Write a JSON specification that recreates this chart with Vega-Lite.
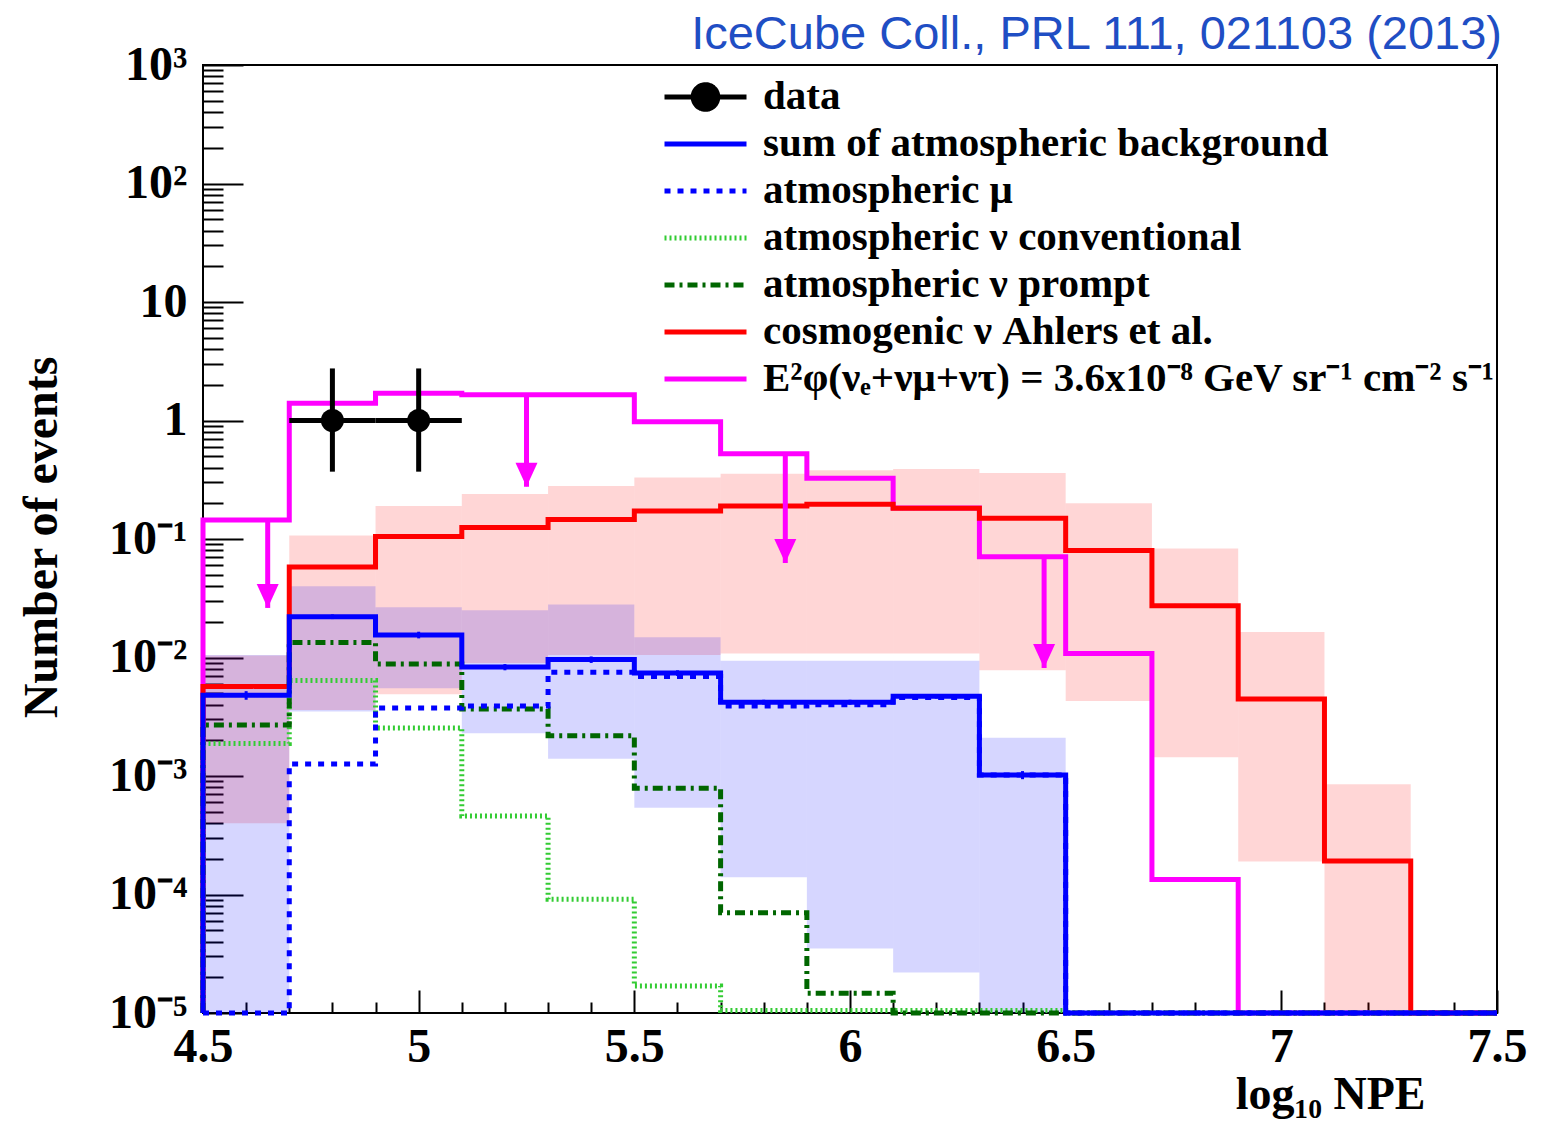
{
  "$schema": "https://vega.github.io/schema/vega-lite/v6.json",
  "width": 1294,
  "height": 948,
  "autosize": {"type": "none"},
  "padding": {"left": 203, "top": 65, "right": 55, "bottom": 108},
  "background": "white",
  "config": {"font": "Liberation Serif", "view": {"stroke": "black", "strokeWidth": 2}},
  "title": {"text": "IceCube Coll., PRL 111, 021103 (2013)", "anchor": "end", "frame": "group", "font": "Liberation Sans", "fontSize": 47, "fontWeight": "normal", "color": "#1f4ec4", "offset": 14, "baseline": "alphabetic", "dx": 5, "dy": 69},
  "datasets": {
    "steps": [
      {"s":"e2","i":0,"x":4.5,"y":0.00001},{"s":"e2","i":1,"x":4.5,"y":0.145},{"s":"e2","i":2,"x":4.7,"y":1.4},{"s":"e2","i":3,"x":4.9,"y":1.7},{"s":"e2","i":4,"x":5.1,"y":1.65},{"s":"e2","i":5,"x":5.3,"y":1.65},{"s":"e2","i":6,"x":5.5,"y":0.975},{"s":"e2","i":7,"x":5.7,"y":0.525},{"s":"e2","i":8,"x":5.9,"y":0.325},{"s":"e2","i":9,"x":6.1,"y":0.183},{"s":"e2","i":10,"x":6.3,"y":0.071},{"s":"e2","i":11,"x":6.5,"y":0.0108},{"s":"e2","i":12,"x":6.7,"y":0.000134},{"s":"e2","i":13,"x":6.9,"y":0.00001},{"s":"e2","i":14,"x":7.1,"y":0.00001},{"s":"e2","i":15,"x":7.3,"y":0.00001},{"s":"e2","i":16,"x":7.5,"y":0.00001},
      {"s":"cosmo","i":0,"x":4.5,"y":0.00001},{"s":"cosmo","i":1,"x":4.5,"y":0.0057},{"s":"cosmo","i":2,"x":4.7,"y":0.058},{"s":"cosmo","i":3,"x":4.9,"y":0.105},{"s":"cosmo","i":4,"x":5.1,"y":0.125},{"s":"cosmo","i":5,"x":5.3,"y":0.146},{"s":"cosmo","i":6,"x":5.5,"y":0.172},{"s":"cosmo","i":7,"x":5.7,"y":0.19},{"s":"cosmo","i":8,"x":5.9,"y":0.196},{"s":"cosmo","i":9,"x":6.1,"y":0.182},{"s":"cosmo","i":10,"x":6.3,"y":0.15},{"s":"cosmo","i":11,"x":6.5,"y":0.08},{"s":"cosmo","i":12,"x":6.7,"y":0.0274},{"s":"cosmo","i":13,"x":6.9,"y":0.00446},{"s":"cosmo","i":14,"x":7.1,"y":0.000192},{"s":"cosmo","i":15,"x":7.3,"y":0.00001},{"s":"cosmo","i":16,"x":7.5,"y":0.00001},
      {"s":"conv","i":0,"x":4.5,"y":0.00001},{"s":"conv","i":1,"x":4.5,"y":0.00188},{"s":"conv","i":2,"x":4.7,"y":0.0064},{"s":"conv","i":3,"x":4.9,"y":0.00254},{"s":"conv","i":4,"x":5.1,"y":0.00046},{"s":"conv","i":5,"x":5.3,"y":0.000091},{"s":"conv","i":6,"x":5.5,"y":0.0000169},{"s":"conv","i":7,"x":5.7,"y":0.0000105},{"s":"conv","i":8,"x":5.9,"y":0.0000105},{"s":"conv","i":9,"x":6.1,"y":0.0000105},{"s":"conv","i":10,"x":6.3,"y":0.0000105},{"s":"conv","i":11,"x":6.5,"y":0.00001},{"s":"conv","i":12,"x":6.7,"y":0.00001},{"s":"conv","i":13,"x":6.9,"y":0.00001},{"s":"conv","i":14,"x":7.1,"y":0.00001},{"s":"conv","i":15,"x":7.3,"y":0.00001},{"s":"conv","i":16,"x":7.5,"y":0.00001},
      {"s":"prompt","i":0,"x":4.5,"y":0.00001},{"s":"prompt","i":1,"x":4.5,"y":0.0027},{"s":"prompt","i":2,"x":4.7,"y":0.0134},{"s":"prompt","i":3,"x":4.9,"y":0.0088},{"s":"prompt","i":4,"x":5.1,"y":0.00367},{"s":"prompt","i":5,"x":5.3,"y":0.00219},{"s":"prompt","i":6,"x":5.5,"y":0.00079},{"s":"prompt","i":7,"x":5.7,"y":0.00007},{"s":"prompt","i":8,"x":5.9,"y":0.0000147},{"s":"prompt","i":9,"x":6.1,"y":0.00001},{"s":"prompt","i":10,"x":6.3,"y":0.00001},{"s":"prompt","i":11,"x":6.5,"y":0.00001},{"s":"prompt","i":12,"x":6.7,"y":0.00001},{"s":"prompt","i":13,"x":6.9,"y":0.00001},{"s":"prompt","i":14,"x":7.1,"y":0.00001},{"s":"prompt","i":15,"x":7.3,"y":0.00001},{"s":"prompt","i":16,"x":7.5,"y":0.00001},
      {"s":"mu","i":0,"x":4.5,"y":0.00001},{"s":"mu","i":1,"x":4.5,"y":0.00001},{"s":"mu","i":2,"x":4.7,"y":0.00126},{"s":"mu","i":3,"x":4.9,"y":0.00374},{"s":"mu","i":4,"x":5.1,"y":0.0039},{"s":"mu","i":5,"x":5.3,"y":0.0075},{"s":"mu","i":6,"x":5.5,"y":0.0069},{"s":"mu","i":7,"x":5.7,"y":0.0039},{"s":"mu","i":8,"x":5.9,"y":0.004},{"s":"mu","i":9,"x":6.1,"y":0.0046},{"s":"mu","i":10,"x":6.3,"y":0.00102},{"s":"mu","i":11,"x":6.5,"y":0.00001},{"s":"mu","i":12,"x":6.7,"y":0.00001},{"s":"mu","i":13,"x":6.9,"y":0.00001},{"s":"mu","i":14,"x":7.1,"y":0.00001},{"s":"mu","i":15,"x":7.3,"y":0.00001},{"s":"mu","i":16,"x":7.5,"y":0.00001},
      {"s":"sum","i":0,"x":4.5,"y":0.00001},{"s":"sum","i":1,"x":4.5,"y":0.0048},{"s":"sum","i":2,"x":4.7,"y":0.0221},{"s":"sum","i":3,"x":4.9,"y":0.0155},{"s":"sum","i":4,"x":5.1,"y":0.0083},{"s":"sum","i":5,"x":5.3,"y":0.0096},{"s":"sum","i":6,"x":5.5,"y":0.0074},{"s":"sum","i":7,"x":5.7,"y":0.0042},{"s":"sum","i":8,"x":5.9,"y":0.0042},{"s":"sum","i":9,"x":6.1,"y":0.0047},{"s":"sum","i":10,"x":6.3,"y":0.00102},{"s":"sum","i":11,"x":6.5,"y":0.00001},{"s":"sum","i":12,"x":6.7,"y":0.00001},{"s":"sum","i":13,"x":6.9,"y":0.00001},{"s":"sum","i":14,"x":7.1,"y":0.00001},{"s":"sum","i":15,"x":7.3,"y":0.00001},{"s":"sum","i":16,"x":7.5,"y":0.00001}
    ],
    "rband": [
      {"lo":4.5,"hi":4.7,"up":0.0104,"dn":0.0004},{"lo":4.7,"hi":4.9,"up":0.107,"dn":0.0036},{"lo":4.9,"hi":5.1,"up":0.19,"dn":0.0049},{"lo":5.1,"hi":5.3,"up":0.24,"dn":0.009},{"lo":5.3,"hi":5.5,"up":0.28,"dn":0.0105},{"lo":5.5,"hi":5.7,"up":0.33,"dn":0.0105},{"lo":5.7,"hi":5.9,"up":0.355,"dn":0.0108},{"lo":5.9,"hi":6.1,"up":0.38,"dn":0.0108},{"lo":6.1,"hi":6.3,"up":0.39,"dn":0.0108},{"lo":6.3,"hi":6.5,"up":0.36,"dn":0.0078},{"lo":6.5,"hi":6.7,"up":0.2,"dn":0.0043},{"lo":6.7,"hi":6.9,"up":0.083,"dn":0.00144},{"lo":6.9,"hi":7.1,"up":0.0164,"dn":0.00019},{"lo":7.1,"hi":7.3,"up":0.00085,"dn":0.00001}
    ],
    "bband": [
      {"lo":4.5,"hi":4.7,"up":0.0105,"dn":0.00001},{"lo":4.7,"hi":4.9,"up":0.04,"dn":0.0035},{"lo":4.9,"hi":5.1,"up":0.0265,"dn":0.0055},{"lo":5.1,"hi":5.3,"up":0.025,"dn":0.0023},{"lo":5.3,"hi":5.5,"up":0.028,"dn":0.0014},{"lo":5.5,"hi":5.7,"up":0.0148,"dn":0.00054},{"lo":5.7,"hi":5.9,"up":0.0094,"dn":0.00014},{"lo":5.9,"hi":6.1,"up":0.0094,"dn":0.000035},{"lo":6.1,"hi":6.3,"up":0.0094,"dn":0.000022},{"lo":6.3,"hi":6.5,"up":0.0021,"dn":0.00001}
    ],
    "berr": [
      {"c":4.6,"lo":0.0044,"hi":0.0052},{"c":4.8,"lo":0.0211,"hi":0.0231},{"c":5.0,"lo":0.0145,"hi":0.0165},{"c":5.2,"lo":0.0078,"hi":0.0088},{"c":5.4,"lo":0.009,"hi":0.0102},{"c":5.6,"lo":0.007,"hi":0.0078},{"c":5.8,"lo":0.004,"hi":0.0044},{"c":6.0,"lo":0.004,"hi":0.0044},{"c":6.2,"lo":0.0045,"hi":0.0049},{"c":6.4,"lo":0.00094,"hi":0.0011}
    ],
    "arrows": [
      {"x":4.65,"y0":0.145,"y1":0.0262},{"x":5.25,"y0":1.65,"y1":0.276},{"x":5.85,"y0":0.525,"y1":0.0627},{"x":6.45,"y0":0.071,"y1":0.00815}
    ],
    "points": [
      {"x":4.8,"y":1,"xlo":4.7,"xhi":4.9,"ylo":0.37,"yhi":2.75},{"x":5.0,"y":1,"xlo":4.9,"xhi":5.1,"ylo":0.37,"yhi":2.75}
    ]
  },
  "layer": [
    {
      "data": {"name": "rband"},
      "mark": {"type": "rect", "fill": "#ff0000", "fillOpacity": 0.16, "strokeWidth": 0},
      "encoding": {
        "x": {"field": "lo", "type": "quantitative", "scale": {"domain": [4.5, 7.5], "nice": false, "zero": false},
          "axis": {
            "values": [4.5,4.6,4.7,4.8,4.9,5,5.1,5.2,5.3,5.4,5.5,5.6,5.7,5.8,5.9,6,6.1,6.2,6.3,6.4,6.5,6.6,6.7,6.8,6.9,7,7.1,7.2,7.3,7.4,7.5],
            "labelExpr": "abs(datum.value*2 - round(datum.value*2)) < 0.001 ? format(datum.value, '~g') : ''",
            "labelFont": "Liberation Serif", "labelFontWeight": "bold", "labelFontSize": 48, "labelColor": "black",
            "labelFlush": false, "labelOverlap": false, "labelPadding": 33, "labelBaseline": "top",
            "tickSize": {"condition": {"test": "abs(datum.value*2 - round(datum.value*2)) < 0.001", "value": -23}, "value": -11},
            "tickColor": "black", "tickWidth": 2, "domain": false, "grid": false,
            "title": "log₁₀ NPE", "titleFont": "Liberation Serif", "titleFontWeight": "bold", "titleFontSize": 46, "titleColor": "black",
            "titleX": 1222, "titleY": 81, "titleAlign": "right", "titleBaseline": "middle"
          }},
        "x2": {"field": "hi"},
        "y": {"field": "up", "type": "quantitative", "scale": {"type": "log", "domain": [0.00001, 1000], "nice": false},
          "axis": {
            "values": [0.00001,0.00002,0.00003,0.00004,0.00005,0.00006,0.00007,0.00008,0.00009,0.0001,0.0002,0.0003,0.0004,0.0005,0.0006,0.0007,0.0008,0.0009,0.001,0.002,0.003,0.004,0.005,0.006,0.007,0.008,0.009,0.01,0.02,0.03,0.04,0.05,0.06,0.07,0.08,0.09,0.1,0.2,0.3,0.4,0.5,0.6,0.7,0.8,0.9,1,2,3,4,5,6,7,8,9,10,20,30,40,50,60,70,80,90,100,200,300,400,500,600,700,800,900,1000],
            "labelExpr": "abs(log(datum.value)/LN10 - round(log(datum.value)/LN10)) > 0.001 ? '' : round(log(datum.value)/LN10) == 3 ? '10³' : round(log(datum.value)/LN10) == 2 ? '10²' : round(log(datum.value)/LN10) == 1 ? '10' : round(log(datum.value)/LN10) == 0 ? '1' : round(log(datum.value)/LN10) == -1 ? '10⁻¹' : round(log(datum.value)/LN10) == -2 ? '10⁻²' : round(log(datum.value)/LN10) == -3 ? '10⁻³' : round(log(datum.value)/LN10) == -4 ? '10⁻⁴' : '10⁻⁵'",
            "labelFont": "Liberation Serif", "labelFontWeight": "bold", "labelFontSize": 48, "labelColor": "black",
            "labelOverlap": false, "labelPadding": 56, "labelAlign": "right", "labelBaseline": "middle", "labelFlush": false,
            "tickSize": {"condition": {"test": "abs(log(datum.value)/LN10 - round(log(datum.value)/LN10)) < 0.001", "value": -40}, "value": -20},
            "tickColor": "black", "tickWidth": 2, "domain": false, "grid": false,
            "title": "Number of events", "titleFont": "Liberation Serif", "titleFontWeight": "bold", "titleFontSize": 48, "titleColor": "black",
            "titleX": -161, "titleY": 472, "titleAngle": -90, "titleAlign": "center", "titleBaseline": "middle"
          }},
        "y2": {"field": "dn"}
      }
    },
    {
      "data": {"name": "bband"},
      "mark": {"type": "rect", "fill": "#0000ff", "fillOpacity": 0.16, "strokeWidth": 0},
      "encoding": {
        "x": {"field": "lo", "type": "quantitative"},
        "x2": {"field": "hi"},
        "y": {"field": "up", "type": "quantitative", "scale": {"type": "log", "domain": [0.00001, 1000], "nice": false}},
        "y2": {"field": "dn"}
      }
    },
    {
      "data": {"name": "steps"},
      "mark": {"type": "line", "interpolate": "step-after", "strokeWidth": 5},
      "encoding": {
        "x": {"field": "x", "type": "quantitative"},
        "y": {"field": "y", "type": "quantitative", "scale": {"type": "log", "domain": [0.00001, 1000], "nice": false}},
        "order": {"field": "i", "type": "quantitative"},
        "color": {"field": "s", "type": "nominal",
          "scale": {"domain": ["data", "sum", "mu", "conv", "prompt", "cosmo", "e2"], "range": ["#000000", "#0000ff", "#0000ff", "#33cc33", "#006600", "#ff0000", "#ff00ff"]},
          "legend": {
            "title": null, "orient": "none", "legendX": 459, "legendY": 9, "padding": 0, "offset": 0,
            "symbolType": "stroke", "symbolSize": 6724, "symbolStrokeWidth": 5, "clipHeight": 46, "rowPadding": 1,
            "labelOffset": 14, "labelLimit": 1000, "labelFont": "Liberation Serif", "labelFontWeight": "bold", "labelFontSize": 41, "labelColor": "black",
            "labelExpr": "datum.label == 'data' ? 'data' : datum.label == 'sum' ? 'sum of atmospheric background' : datum.label == 'mu' ? 'atmospheric μ' : datum.label == 'conv' ? 'atmospheric ν conventional' : datum.label == 'prompt' ? 'atmospheric ν prompt' : datum.label == 'cosmo' ? 'cosmogenic ν Ahlers et al.' : 'E²φ(νₑ+νμ+ντ) = 3.6x10⁻⁸ GeV sr⁻¹ cm⁻² s⁻¹'",
            "encode": {"symbols": {"update": {
              "shape": {"signal": "datum.value === 'data' ? 'M-1,0L1,0M-0.3,0A0.3,0.3,0,1,1,0.3,0A0.3,0.3,0,1,1,-0.3,0Z' : 'stroke'"},
              "fill": {"signal": "datum.value === 'data' ? 'black' : 'transparent'"}
            }}}
          }},
        "strokeDash": {"field": "s", "type": "nominal",
          "scale": {"domain": ["data", "sum", "mu", "conv", "prompt", "cosmo", "e2"], "range": [[1,0], [1,0], [6,7], [2,3], [10,5,3,5], [1,0], [1,0]]},
          "legend": {
            "title": null, "orient": "none", "legendX": 459, "legendY": 9, "padding": 0, "offset": 0,
            "symbolType": "stroke", "symbolSize": 6724, "symbolStrokeWidth": 5, "clipHeight": 46, "rowPadding": 1,
            "labelOffset": 14, "labelLimit": 1000, "labelFont": "Liberation Serif", "labelFontWeight": "bold", "labelFontSize": 41, "labelColor": "black",
            "labelExpr": "datum.label == 'data' ? 'data' : datum.label == 'sum' ? 'sum of atmospheric background' : datum.label == 'mu' ? 'atmospheric μ' : datum.label == 'conv' ? 'atmospheric ν conventional' : datum.label == 'prompt' ? 'atmospheric ν prompt' : datum.label == 'cosmo' ? 'cosmogenic ν Ahlers et al.' : 'E²φ(νₑ+νμ+ντ) = 3.6x10⁻⁸ GeV sr⁻¹ cm⁻² s⁻¹'",
            "encode": {"symbols": {"update": {
              "shape": {"signal": "datum.value === 'data' ? 'M-1,0L1,0M-0.3,0A0.3,0.3,0,1,1,0.3,0A0.3,0.3,0,1,1,-0.3,0Z' : 'stroke'"},
              "fill": {"signal": "datum.value === 'data' ? 'black' : 'transparent'"}
            }}}
          }}
      }
    },
    {
      "data": {"name": "berr"},
      "mark": {"type": "rule", "stroke": "#0000ff", "strokeWidth": 3},
      "encoding": {
        "x": {"field": "c", "type": "quantitative"},
        "y": {"field": "lo", "type": "quantitative", "scale": {"type": "log", "domain": [0.00001, 1000], "nice": false}},
        "y2": {"field": "hi"}
      }
    },
    {
      "data": {"name": "arrows"},
      "mark": {"type": "rule", "stroke": "#ff00ff", "strokeWidth": 5},
      "encoding": {
        "x": {"field": "x", "type": "quantitative"},
        "y": {"field": "y0", "type": "quantitative", "scale": {"type": "log", "domain": [0.00001, 1000], "nice": false}},
        "y2": {"field": "y1"}
      }
    },
    {
      "data": {"name": "arrows"},
      "mark": {"type": "point", "shape": "M-0.55,-1.2L0.55,-1.2L0,0Z", "filled": true, "fill": "#ff00ff", "size": 1600, "opacity": 1, "strokeWidth": 0},
      "encoding": {
        "x": {"field": "x", "type": "quantitative"},
        "y": {"field": "y1", "type": "quantitative", "scale": {"type": "log", "domain": [0.00001, 1000], "nice": false}}
      }
    },
    {
      "data": {"name": "points"},
      "mark": {"type": "rule", "stroke": "black", "strokeWidth": 5},
      "encoding": {
        "x": {"field": "xlo", "type": "quantitative"},
        "x2": {"field": "xhi"},
        "y": {"field": "y", "type": "quantitative", "scale": {"type": "log", "domain": [0.00001, 1000], "nice": false}}
      }
    },
    {
      "data": {"name": "points"},
      "mark": {"type": "rule", "stroke": "black", "strokeWidth": 5},
      "encoding": {
        "x": {"field": "x", "type": "quantitative"},
        "y": {"field": "ylo", "type": "quantitative", "scale": {"type": "log", "domain": [0.00001, 1000], "nice": false}},
        "y2": {"field": "yhi"}
      }
    },
    {
      "data": {"name": "points"},
      "mark": {"type": "point", "shape": "circle", "filled": true, "fill": "black", "size": 530, "opacity": 1},
      "encoding": {
        "x": {"field": "x", "type": "quantitative"},
        "y": {"field": "y", "type": "quantitative", "scale": {"type": "log", "domain": [0.00001, 1000], "nice": false}}
      }
    }
  ]
}
